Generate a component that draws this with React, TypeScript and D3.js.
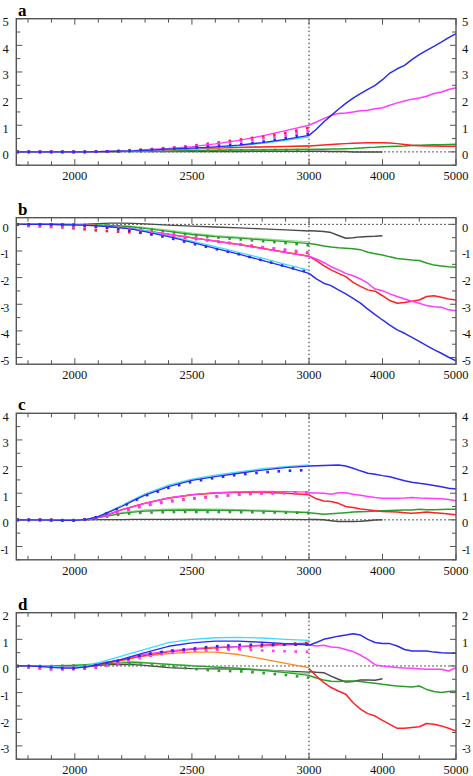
import React from "react";
import * as d3 from "d3";

// ---------- DATA ----------
const LEFT_YEARS = [1750, 1800, 1850, 1900, 1950, 2000, 2050, 2100, 2150, 2200, 2250, 2300, 2400, 2500, 2600, 2700, 2800, 2900, 3000];
const RIGHT_YEARS = [3000, 3100, 3200, 3300, 3400, 3500, 3600, 3700, 3800, 3900, 4000, 4100, 4200, 4300, 4400, 4500, 4600, 4700, 4800, 4900, 5000];
const BLACK_RIGHT_YEARS = [3000, 3100, 3200, 3300, 3400, 3500, 3600, 3700, 3800, 3900, 4000];

const X_MINOR_TICKS = [1800, 1900, 2100, 2200, 2300, 2400, 2600, 2700, 2800, 2900, 3500, 4500];
const X_MAJOR_TICKS = [2000, 2500, 3000, 4000, 5000];
const X_TICK_LABELS = ["2000", "2500", "3000", "4000", "5000"];
const PANEL_LABELS = ["a", "b", "c", "d"];
const Y_DOMAINS: [number, number][] = [[-0.5, 5], [-5.25, 0.25], [-1.5, 4], [-3.5, 2]];

// Panel a
const A_L_BLACK = [0, 0, 0, 0, 0, 0, 0, 0, 0, 0.01, 0.01, 0.01, 0.01, 0.01, 0.01, 0.01, 0.02, 0.02, 0.02];
const A_L_LIGHTGREEN = [0, 0, 0, 0, 0, 0, 0, 0.01, 0.01, 0.02, 0.03, 0.04, 0.05, 0.06, 0.07, 0.08, 0.09, 0.1, 0.11];
const A_L_GREEN = [0, 0, 0, 0, 0, 0, 0, 0.01, 0.01, 0.02, 0.02, 0.03, 0.04, 0.05, 0.06, 0.07, 0.07, 0.08, 0.09];
const A_L_GREEN_DOTS = [0, 0, 0, 0, 0, 0, 0, 0.01, 0.01, 0.02, 0.02, 0.03, 0.04, 0.04, 0.05, 0.06, 0.06, 0.07, 0.07];
const A_L_ORANGE = [0, 0, 0, 0, 0, 0, 0, 0.01, 0.01, 0.02, 0.03, 0.05, 0.08, 0.11, 0.14, 0.16, 0.18, 0.2, 0.22];
const A_L_RED = [0, 0, 0, 0, 0, 0, 0, 0.01, 0.02, 0.03, 0.04, 0.06, 0.09, 0.12, 0.15, 0.17, 0.19, 0.21, 0.22];
const A_L_MAGENTA = [0, 0, 0, 0, 0, 0, 0, 0.01, 0.02, 0.03, 0.05, 0.08, 0.13, 0.2, 0.3, 0.43, 0.6, 0.8, 1.0];
const A_L_CYAN = [0, 0, 0, 0, 0, 0, 0, 0.01, 0.02, 0.03, 0.04, 0.06, 0.09, 0.13, 0.17, 0.23, 0.32, 0.43, 0.56];
const A_L_BLUE = [0, 0, 0, 0, 0, 0, 0, 0.01, 0.02, 0.03, 0.04, 0.06, 0.1, 0.14, 0.19, 0.25, 0.35, 0.47, 0.62];
const A_L_RED_DOTS = [0, 0, 0, 0, 0, 0, 0, 0.01, 0.02, 0.04, 0.06, 0.09, 0.15, 0.23, 0.34, 0.46, 0.57, 0.71, 0.9];
const A_L_MAGENTA_DOTS = [0, 0, 0, 0, 0, 0, 0, 0.01, 0.02, 0.03, 0.05, 0.08, 0.13, 0.2, 0.29, 0.39, 0.5, 0.62, 0.78];
const A_L_BLUE_DOTS = [0, 0, 0, 0, 0, 0, 0, 0.01, 0.02, 0.03, 0.05, 0.07, 0.11, 0.16, 0.21, 0.28, 0.38, 0.52, 0.68];
const A_R_BLACK = [0.02, 0.02, 0.02, 0.01, 0.01, 0.01, 0, 0, 0, 0, 0];
const A_R_GREEN = [0.09, 0.1, 0.1, 0.11, 0.11, 0.12, 0.13, 0.15, 0.16, 0.17, 0.19, 0.2, 0.21, 0.22, 0.24, 0.25, 0.26, 0.27, 0.27, 0.28, 0.29];
const A_R_RED = [0.22, 0.24, 0.26, 0.28, 0.3, 0.31, 0.32, 0.33, 0.34, 0.34, 0.34, 0.33, 0.31, 0.28, 0.25, 0.23, 0.22, 0.22, 0.21, 0.21, 0.21];
const A_R_MAGENTA = [1.0, 1.12, 1.25, 1.37, 1.44, 1.46, 1.5, 1.54, 1.56, 1.62, 1.66, 1.75, 1.84, 1.91, 1.98, 2.02, 2.09, 2.19, 2.25, 2.34, 2.41];
const A_R_BLUE = [0.62, 0.85, 1.12, 1.36, 1.6, 1.82, 2.02, 2.19, 2.35, 2.5, 2.71, 2.96, 3.12, 3.25, 3.46, 3.65, 3.81, 3.96, 4.12, 4.29, 4.44];

// Panel b
const B_L_BLACK = [0, 0, 0, 0, 0, 0, 0.01, 0.03, 0.05, 0.05, 0.04, 0.02, -0.03, -0.07, -0.1, -0.13, -0.17, -0.21, -0.25];
const B_L_LIGHTGREEN = [0, 0, 0, 0, 0, -0.01, -0.01, -0.02, -0.03, -0.05, -0.08, -0.12, -0.22, -0.33, -0.42, -0.48, -0.54, -0.6, -0.66];
const B_L_GREEN = [0, 0, 0, 0, 0, -0.01, -0.02, -0.03, -0.05, -0.07, -0.1, -0.15, -0.26, -0.38, -0.46, -0.52, -0.58, -0.65, -0.72];
const B_L_GREEN_DOTS = [0, 0, 0, 0, 0, -0.01, -0.02, -0.03, -0.05, -0.08, -0.12, -0.17, -0.28, -0.4, -0.49, -0.56, -0.63, -0.7, -0.78];
const B_L_ORANGE = [0, 0, 0, 0, -0.01, -0.02, -0.03, -0.05, -0.08, -0.12, -0.17, -0.24, -0.37, -0.5, -0.62, -0.74, -0.89, -1.04, -1.18];
const B_L_RED = [0, 0, 0, 0, -0.01, -0.02, -0.03, -0.05, -0.08, -0.12, -0.18, -0.25, -0.38, -0.51, -0.63, -0.76, -0.9, -1.05, -1.2];
const B_L_MAGENTA = [0, 0, 0, 0, -0.01, -0.02, -0.03, -0.05, -0.08, -0.12, -0.17, -0.24, -0.37, -0.5, -0.63, -0.76, -0.91, -1.06, -1.2];
const B_L_CYAN = [0, 0, 0, 0, -0.01, -0.02, -0.04, -0.06, -0.09, -0.12, -0.17, -0.24, -0.42, -0.63, -0.84, -1.05, -1.27, -1.5, -1.72];
const B_L_BLUE = [0, 0, 0, 0, -0.01, -0.02, -0.04, -0.06, -0.09, -0.13, -0.19, -0.27, -0.46, -0.68, -0.9, -1.12, -1.35, -1.59, -1.84];
const B_L_RED_DOTS = [0, -0.06, -0.08, -0.1, -0.12, -0.15, -0.19, -0.23, -0.26, -0.28, -0.3, -0.33, -0.42, -0.53, -0.64, -0.75, -0.86, -0.97, -1.08];
const B_L_MAGENTA_DOTS = [0, -0.06, -0.07, -0.08, -0.09, -0.1, -0.1, -0.11, -0.13, -0.16, -0.2, -0.26, -0.38, -0.5, -0.62, -0.74, -0.85, -0.95, -1.05];
const B_L_BLUE_DOTS = [0, 0, 0, -0.01, -0.02, -0.03, -0.05, -0.09, -0.14, -0.2, -0.26, -0.33, -0.5, -0.72, -0.92, -1.12, -1.35, -1.58, -1.8];
const B_R_BLACK = [-0.24, -0.25, -0.27, -0.31, -0.42, -0.52, -0.5, -0.47, -0.46, -0.45, -0.43];
const B_R_GREEN = [-0.72, -0.76, -0.81, -0.85, -0.88, -0.9, -0.92, -0.95, -1.05, -1.1, -1.15, -1.22, -1.28, -1.31, -1.34, -1.36, -1.45, -1.53, -1.56, -1.59, -1.61];
const B_R_RED = [-1.2, -1.36, -1.55, -1.71, -1.84, -1.96, -2.18, -2.33, -2.46, -2.51, -2.68, -2.86, -2.96, -2.93, -2.89, -2.84, -2.71, -2.68, -2.74, -2.8, -2.84];
const B_R_MAGENTA = [-1.2, -1.3, -1.43, -1.59, -1.71, -1.84, -1.93, -2.05, -2.21, -2.43, -2.49, -2.61, -2.71, -2.8, -2.89, -2.96, -3.05, -3.09, -3.11, -3.21, -3.24];
const B_R_BLUE = [-1.84, -2.05, -2.21, -2.3, -2.46, -2.61, -2.78, -2.96, -3.18, -3.39, -3.59, -3.78, -3.96, -4.09, -4.24, -4.39, -4.55, -4.7, -4.84, -4.99, -5.12];

// Panel c
const C_L_BLACK = [0, 0, 0, 0, -0.01, -0.01, 0, 0.01, 0.01, 0.01, 0.02, 0.02, 0.02, 0.03, 0.03, 0.02, 0.02, 0.02, 0.01];
const C_L_LIGHTGREEN = [0, 0, 0, 0, -0.01, -0.01, 0.02, 0.09, 0.18, 0.27, 0.33, 0.37, 0.4, 0.41, 0.4, 0.38, 0.36, 0.33, 0.29];
const C_L_GREEN = [0, 0, 0, 0, -0.01, -0.01, 0.02, 0.08, 0.16, 0.24, 0.29, 0.33, 0.36, 0.37, 0.36, 0.35, 0.33, 0.3, 0.27];
const C_L_GREEN_DOTS = [0, 0, 0, 0, -0.01, -0.01, 0.02, 0.07, 0.14, 0.21, 0.25, 0.27, 0.29, 0.3, 0.3, 0.29, 0.28, 0.27, 0.26];
const C_L_ORANGE = [0, 0, 0, -0.01, -0.02, -0.02, 0.01, 0.09, 0.22, 0.37, 0.5, 0.62, 0.81, 0.93, 0.99, 1.02, 1.02, 0.99, 0.94];
const C_L_RED = [0, 0, 0, -0.01, -0.02, -0.02, 0.01, 0.09, 0.22, 0.38, 0.51, 0.63, 0.82, 0.95, 1.01, 1.04, 1.04, 1.0, 0.95];
const C_L_MAGENTA = [0, 0, 0, -0.01, -0.02, -0.02, 0.01, 0.09, 0.22, 0.37, 0.5, 0.62, 0.82, 0.95, 1.02, 1.05, 1.07, 1.06, 1.04];
const C_L_CYAN = [0, 0, 0, -0.01, -0.02, -0.02, 0.02, 0.13, 0.33, 0.54, 0.76, 0.98, 1.3, 1.53, 1.68, 1.8, 1.92, 2.0, 2.06];
const C_L_BLUE = [0, 0, 0, -0.01, -0.02, -0.02, 0.02, 0.12, 0.31, 0.5, 0.72, 0.93, 1.25, 1.48, 1.62, 1.75, 1.87, 1.96, 2.02];
const C_L_RED_DOTS = [0, 0, 0, -0.01, -0.02, -0.02, 0.01, 0.08, 0.2, 0.32, 0.44, 0.54, 0.7, 0.81, 0.88, 0.95, 1.0, 1.01, 1.02];
const C_L_MAGENTA_DOTS = [0, 0, 0, -0.01, -0.02, -0.02, 0.01, 0.08, 0.19, 0.31, 0.42, 0.52, 0.68, 0.79, 0.87, 0.94, 0.99, 1.0, 1.01];
const C_L_BLUE_DOTS = [0, 0, 0, -0.01, -0.02, -0.02, 0.02, 0.12, 0.3, 0.48, 0.7, 0.9, 1.2, 1.43, 1.58, 1.7, 1.78, 1.84, 1.87];
const C_R_BLACK = [0.01, 0.01, 0, -0.03, -0.06, -0.06, -0.06, -0.05, -0.03, -0.01, 0];
const C_R_GREEN = [0.27, 0.24, 0.21, 0.23, 0.25, 0.27, 0.29, 0.3, 0.31, 0.33, 0.34, 0.35, 0.36, 0.37, 0.37, 0.4, 0.38, 0.38, 0.39, 0.4, 0.4];
const C_R_RED = [0.94, 0.79, 0.71, 0.69, 0.62, 0.5, 0.46, 0.41, 0.38, 0.34, 0.31, 0.3, 0.29, 0.27, 0.25, 0.27, 0.29, 0.27, 0.25, 0.22, 0.19];
const C_R_MAGENTA = [1.02, 1.01, 1.0, 0.96, 1.02, 1.02, 0.96, 0.92, 0.88, 0.84, 0.81, 0.81, 0.81, 0.82, 0.84, 0.82, 0.81, 0.8, 0.79, 0.76, 0.72];
const C_R_BLUE = [2.02, 2.03, 2.04, 2.05, 2.06, 2.02, 1.94, 1.84, 1.75, 1.71, 1.66, 1.62, 1.54, 1.47, 1.41, 1.37, 1.34, 1.29, 1.24, 1.19, 1.16];

// Panel d
const D_L_BLACK = [0, 0, 0, -0.02, -0.05, -0.06, -0.03, 0.02, 0.05, 0.06, 0.05, 0.02, -0.06, -0.1, -0.11, -0.12, -0.15, -0.19, -0.23];
const D_L_LIGHTGREEN = [0, 0, 0, 0, 0.02, 0.04, 0.06, 0.12, 0.17, 0.19, 0.17, 0.13, 0.07, 0.02, -0.03, -0.08, -0.14, -0.22, -0.3];
const D_L_GREEN = [0, 0, 0, 0, 0.01, 0.02, 0.04, 0.06, 0.09, 0.12, 0.13, 0.12, 0.06, 0, -0.04, -0.09, -0.16, -0.25, -0.35];
const D_L_GREEN_DOTS = [0, 0, 0, 0, 0.01, 0.02, 0.03, 0.05, 0.06, 0.07, 0.06, 0.04, -0.02, -0.1, -0.18, -0.2, -0.26, -0.34, -0.44];
const D_L_ORANGE = [0, 0, 0, -0.02, -0.03, -0.03, 0, 0.08, 0.15, 0.21, 0.3, 0.37, 0.46, 0.52, 0.52, 0.43, 0.27, 0.1, -0.06];
const D_L_RED = [0, 0, 0, -0.02, -0.04, -0.04, -0.01, 0.05, 0.13, 0.22, 0.31, 0.4, 0.53, 0.62, 0.68, 0.73, 0.78, 0.83, 0.86];
const D_L_MAGENTA = [0, 0, 0, -0.02, -0.04, -0.04, -0.01, 0.06, 0.15, 0.25, 0.35, 0.44, 0.56, 0.65, 0.71, 0.73, 0.76, 0.79, 0.81];
const D_L_CYAN = [0, 0, 0, -0.02, -0.04, -0.04, 0, 0.12, 0.25, 0.37, 0.5, 0.62, 0.88, 1.0, 1.06, 1.07, 1.05, 1.0, 0.96];
const D_L_BLUE = [0, 0, -0.02, -0.05, -0.08, -0.08, -0.03, 0.06, 0.15, 0.25, 0.38, 0.5, 0.74, 0.87, 0.93, 0.93, 0.89, 0.84, 0.79];
const D_L_RED_DOTS = [0, -0.06, -0.1, -0.12, -0.12, -0.12, -0.1, -0.06, 0.05, 0.15, 0.3, 0.42, 0.56, 0.62, 0.66, 0.66, 0.74, 0.82, 0.87];
const D_L_MAGENTA_DOTS = [0, -0.06, -0.1, -0.12, -0.12, -0.1, -0.08, -0.04, 0.04, 0.12, 0.24, 0.34, 0.48, 0.56, 0.6, 0.62, 0.58, 0.55, 0.53];
const D_L_BLUE_DOTS = [0, 0, -0.02, -0.05, -0.08, -0.08, -0.03, 0.05, 0.14, 0.22, 0.33, 0.44, 0.56, 0.65, 0.74, 0.79, 0.8, 0.8, 0.8];
const D_R_BLACK = [-0.22, -0.24, -0.25, -0.38, -0.5, -0.6, -0.58, -0.53, -0.53, -0.54, -0.48];
const D_R_GREEN = [-0.36, -0.45, -0.53, -0.57, -0.58, -0.56, -0.56, -0.58, -0.62, -0.65, -0.69, -0.72, -0.75, -0.77, -0.79, -0.75, -0.88, -0.96, -1.0, -0.96, -0.94];
const D_R_RED = [-0.1, -0.38, -0.62, -0.81, -0.94, -1.06, -1.38, -1.62, -1.79, -1.88, -2.04, -2.19, -2.34, -2.34, -2.31, -2.28, -2.16, -2.19, -2.25, -2.34, -2.44];
const D_R_MAGENTA = [0.79, 0.75, 0.78, 0.71, 0.69, 0.62, 0.54, 0.41, 0.25, 0.04, 0, -0.03, -0.06, -0.08, -0.09, -0.1, -0.12, -0.12, -0.12, -0.19, -0.06];
const D_R_BLUE = [0.78, 0.88, 1.0, 1.06, 1.12, 1.16, 1.21, 1.16, 1.0, 0.88, 0.84, 0.84, 0.75, 0.62, 0.56, 0.56, 0.56, 0.52, 0.5, 0.49, 0.48];

// ---------- STYLE ----------
const COLORS: Record<string, string> = {
  black: "#4a4a4a",
  lightGreen: "#86e086",
  green: "#2a9e2a",
  orange: "#ff8a1a",
  red: "#ff2222",
  magenta: "#ff3cff",
  cyan: "#3cdcff",
  blue: "#2b2bf2",
};

type Series = { years: number[]; values: number[]; color: string; dotted?: boolean; right?: boolean };

function leftSet(v: number[][]): Series[] {
  const spec: [string, boolean][] = [
    ["black", false], ["lightGreen", false], ["green", false], ["green", true],
    ["orange", false], ["red", false], ["magenta", false], ["cyan", false], ["blue", false],
    ["red", true], ["magenta", true], ["blue", true],
  ];
  return v.map((vals, i) => ({ years: LEFT_YEARS, values: vals, color: COLORS[spec[i][0]], dotted: spec[i][1] }));
}
function rightSet(black: number[], green: number[], red: number[], magenta: number[], blue: number[]): Series[] {
  return [
    { years: BLACK_RIGHT_YEARS, values: black, color: COLORS.black, right: true },
    { years: RIGHT_YEARS, values: green, color: COLORS.green, right: true },
    { years: RIGHT_YEARS, values: red, color: COLORS.red, right: true },
    { years: RIGHT_YEARS, values: magenta, color: COLORS.magenta, right: true },
    { years: RIGHT_YEARS, values: blue, color: COLORS.blue, right: true },
  ];
}

const PANEL_SERIES: Series[][] = [
  [
    ...leftSet([A_L_BLACK, A_L_LIGHTGREEN, A_L_GREEN, A_L_GREEN_DOTS, A_L_ORANGE, A_L_RED, A_L_MAGENTA, A_L_CYAN, A_L_BLUE, A_L_RED_DOTS, A_L_MAGENTA_DOTS, A_L_BLUE_DOTS]),
    ...rightSet(A_R_BLACK, A_R_GREEN, A_R_RED, A_R_MAGENTA, A_R_BLUE),
  ],
  [
    ...leftSet([B_L_BLACK, B_L_LIGHTGREEN, B_L_GREEN, B_L_GREEN_DOTS, B_L_ORANGE, B_L_RED, B_L_MAGENTA, B_L_CYAN, B_L_BLUE, B_L_RED_DOTS, B_L_MAGENTA_DOTS, B_L_BLUE_DOTS]),
    ...rightSet(B_R_BLACK, B_R_GREEN, B_R_RED, B_R_MAGENTA, B_R_BLUE),
  ],
  [
    ...leftSet([C_L_BLACK, C_L_LIGHTGREEN, C_L_GREEN, C_L_GREEN_DOTS, C_L_ORANGE, C_L_RED, C_L_MAGENTA, C_L_CYAN, C_L_BLUE, C_L_RED_DOTS, C_L_MAGENTA_DOTS, C_L_BLUE_DOTS]),
    ...rightSet(C_R_BLACK, C_R_GREEN, C_R_RED, C_R_MAGENTA, C_R_BLUE),
  ],
  [
    ...leftSet([D_L_BLACK, D_L_LIGHTGREEN, D_L_GREEN, D_L_GREEN_DOTS, D_L_ORANGE, D_L_RED, D_L_MAGENTA, D_L_CYAN, D_L_BLUE, D_L_RED_DOTS, D_L_MAGENTA_DOTS, D_L_BLUE_DOTS]),
    ...rightSet(D_R_BLACK, D_R_GREEN, D_R_RED, D_R_MAGENTA, D_R_BLUE),
  ],
];

// ---------- LAYOUT ----------
const W = 473;
const H = 776;
const PLOT_LEFT = 16.3;
const PLOT_RIGHT = 456;
const X_BREAK = 309;
const PANEL_TOPS = [18.7, 217.7, 413.3, 612.7];
const PANEL_H = 146.5;
const FONT = "'Liberation Serif', 'DejaVu Serif', 'Times New Roman', serif";

const x = d3.scaleLinear().domain([1750, 3000, 5000]).range([PLOT_LEFT, X_BREAK, PLOT_RIGHT]);

function YLabel({ v, yPos, side }: { v: number; yPos: number; side: "left" | "right" }) {
  const neg = v < 0;
  const txt = String(v);
  if (side === "left") {
    if (neg) {
      return (
        <text x={0.4} y={yPos} textAnchor="start" fontFamily={FONT} fontSize={12} letterSpacing={-1.2} fill="#111">
          {txt}
        </text>
      );
    }
    return (
      <text x={8.8} y={yPos} textAnchor="end" fontFamily={FONT} fontSize={12.5} fill="#111">
        {txt}
      </text>
    );
  }
  return (
    <text x={462} y={yPos} textAnchor="start" fontFamily={FONT} fontSize={neg ? 12 : 12.5} letterSpacing={neg ? -1.2 : 0} fill="#111">
      {txt}
    </text>
  );
}

function Panel({ idx }: { idx: number }) {
  const top = PANEL_TOPS[idx];
  const bottom = top + PANEL_H;
  const dom = Y_DOMAINS[idx];
  const y = d3.scaleLinear().domain(dom).range([bottom, top]);
  const yTicks = d3.range(Math.ceil(dom[0] * 2) / 2, dom[1] + 0.001, 0.5);
  const clipId = `clip-${idx}`;
  const axisColor = "#555";
  return (
    <g>
      <defs>
        <clipPath id={clipId}>
          <rect x={PLOT_LEFT} y={top} width={PLOT_RIGHT - PLOT_LEFT} height={PANEL_H} />
        </clipPath>
      </defs>
      <text x={18} y={top - 3} fontFamily={FONT} fontWeight="bold" fontSize={17} fill="#000">
        {PANEL_LABELS[idx]}
      </text>
      <line x1={PLOT_LEFT} x2={PLOT_RIGHT} y1={y(0)} y2={y(0)} stroke="#222" strokeWidth={1} strokeDasharray="1.5 2.5" />
      <line x1={x(3000)} x2={x(3000)} y1={top} y2={bottom} stroke="#222" strokeWidth={1} strokeDasharray="1.5 2.5" />
      <g clipPath={`url(#${clipId})`}>
        {PANEL_SERIES[idx].map((s, i) => {
          const pts = s.years.map((yr, j) => [x(yr), y(s.values[j])] as [number, number]);
          const path = d3.line()(pts) || "";
          return (
            <path
              key={i}
              d={path}
              fill="none"
              stroke={s.color}
              strokeWidth={s.dotted ? 2.6 : s.right ? 1.5 : 1.3}
              strokeDasharray={s.dotted ? "2.6 8.6" : undefined}
              strokeLinejoin="round"
            />
          );
        })}
      </g>
      <rect x={PLOT_LEFT} y={top} width={PLOT_RIGHT - PLOT_LEFT} height={PANEL_H} fill="none" stroke={axisColor} strokeWidth={1.4} />
      {yTicks.map((v) => {
        const major = Math.abs(v - Math.round(v)) < 1e-6;
        const len = major ? 6 : 4;
        const vv = Math.round(v * 2) / 2;
        return (
          <g key={`yt${v}`}>
            <line x1={PLOT_LEFT} x2={PLOT_LEFT + len} y1={y(v)} y2={y(v)} stroke={axisColor} strokeWidth={1} />
            <line x1={PLOT_RIGHT - len} x2={PLOT_RIGHT} y1={y(v)} y2={y(v)} stroke={axisColor} strokeWidth={1} />
            {major && (
              <>
                <YLabel v={Math.round(vv)} yPos={y(v) + 7.5} side="left" />
                <YLabel v={Math.round(vv)} yPos={y(v) + 7.5} side="right" />
              </>
            )}
          </g>
        );
      })}
      {X_MINOR_TICKS.map((t) => (
        <g key={`xm${t}`}>
          <line x1={x(t)} x2={x(t)} y1={top} y2={top + 4} stroke={axisColor} strokeWidth={1} />
          <line x1={x(t)} x2={x(t)} y1={bottom - 4} y2={bottom} stroke={axisColor} strokeWidth={1} />
        </g>
      ))}
      {X_MAJOR_TICKS.map((t, i) => (
        <g key={`xM${t}`}>
          <line x1={x(t)} x2={x(t)} y1={top} y2={top + 6} stroke={axisColor} strokeWidth={1} />
          <line x1={x(t)} x2={x(t)} y1={bottom - 6} y2={bottom} stroke={axisColor} strokeWidth={1} />
          <text x={x(t)} y={bottom + 15} textAnchor="middle" fontFamily={FONT} fontSize={12.5} fill="#111">
            {X_TICK_LABELS[i]}
          </text>
        </g>
      ))}
    </g>
  );
}

export default function App() {
  return (
    <svg
      width={W}
      height={H}
      viewBox={`0 0 ${W} ${H}`}
      style={{ position: "absolute", left: 0, top: 0, background: "#fff" }}
    >
      <rect x={0} y={0} width={W} height={H} fill="#fff" />
      {PANEL_TOPS.map((_, i) => (
        <Panel key={i} idx={i} />
      ))}
    </svg>
  );
}
